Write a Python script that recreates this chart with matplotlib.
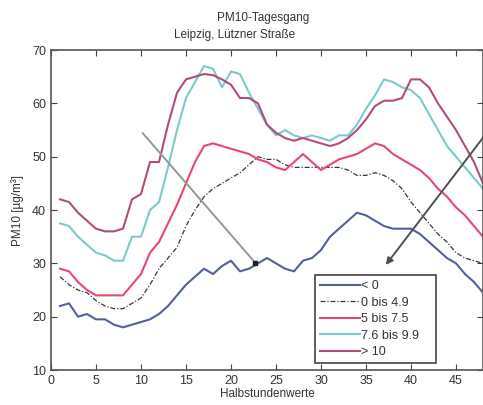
import numpy as np
import matplotlib
matplotlib.use("Agg")
import matplotlib.pyplot as plt

plt.rcParams['font.family'] = ['Liberation Sans', 'DejaVu Sans']

# half-hour index 1..48
x = np.arange(1, 49)

# PM10 daily course per class
lt0 = [22, 22.5, 20, 20.5, 19.5, 19.5, 18.5, 18, 18.5, 19, 19.5, 20.5, 22, 24,
       26, 27.5, 29, 28, 29.5, 30.5, 28.5, 29, 30, 31, 30, 29, 28.5, 30.5,
       31, 32.5, 35, 36.5, 38, 39.5, 39, 38, 37, 36.5, 36.5, 36.5, 35.5, 34,
       32.5, 31, 30, 28, 26.5, 24.5]
b0_49 = [27.5, 26, 25, 24.5, 23, 22, 21.5, 21.5, 22.5, 23.5, 26, 29, 31, 33,
         37, 40, 42.5, 44, 45, 46, 47, 48.5, 50, 49.5, 49.5, 48.5, 48, 48,
         48, 48, 48, 48, 47.5, 46.5, 46.5, 47, 46.5, 45.5, 44, 41.5, 39.5, 37.5,
         35.5, 34, 32, 31, 30.5, 30]
b5_75 = [29, 28.5, 26.5, 25, 24, 24, 24, 24, 26, 28, 32, 34, 37.5, 41,
         45, 49, 52, 52.5, 52, 51.5, 51, 50.5, 49.5, 49, 48, 47.5, 49, 50.5,
         49, 47.5, 48.5, 49.5, 50, 50.5, 51.5, 52.5, 52, 50.5, 49.5, 48.5, 47.5, 46,
         44, 42.5, 40.5, 39, 37, 35]
b76_99 = [37.5, 37, 35, 33.5, 32, 31.5, 30.5, 30.5, 35, 35, 40, 41.5, 48, 55,
          61, 64, 67, 66.5, 63, 66, 65.5, 62, 59, 56, 54, 55, 54, 53.5,
          54, 53.5, 53, 54, 54, 56, 59, 61.5, 64.5, 64, 63, 62.5, 61, 58,
          55, 52, 50, 48, 46, 44]
gt10 = [42, 41.5, 39.5, 38, 36.5, 36, 36, 36.5, 42, 43, 49, 49, 56, 62,
        64.5, 65, 65.5, 65.3, 64.5, 63.5, 61, 61, 60, 56, 54.5, 53.5, 53, 53.5,
        53, 52.5, 52, 52.5, 53.5, 55, 57, 59.5, 60.5, 60.5, 61, 64.5, 64.5, 63,
        60, 57.5, 55, 52, 49, 45]

labels = ['< 0', '0 bis 4.9', '5 bis 7.5', '7.6 bis 9.9', '> 10']
colors = ['#52619e', '#383838', '#e8476e', '#7ccaca', '#b24c7e']

fig = plt.figure(figsize=(4.83, 4.05), dpi=100)
ax = fig.add_axes([0.1056, 0.0864, 0.8944, 0.79])

ax.plot(x, lt0, color=colors[0], lw=1.5, label=labels[0])
ax.plot(x, b0_49, color=colors[1], lw=0.9, ls=(0, (4, 1.5, 1, 1.5)), label=labels[1])
ax.plot(x, b5_75, color=colors[2], lw=1.5, label=labels[2])
ax.plot(x, b76_99, color=colors[3], lw=1.5, label=labels[3])
ax.plot(x, gt10, color=colors[4], lw=1.5, label=labels[4])

# annotation lines
ax.plot([10.2, 22.7], [54.4, 30.1], color='#8f9a90', lw=1.4)
ax.plot([22.7], [30.1], 's', color='#202020', ms=3)
ax.annotate('', xy=(37.2, 29.7), xytext=(48.2, 54.0),
            arrowprops=dict(arrowstyle='-|>', color='#505050', lw=1.4,
                            mutation_scale=10, shrinkA=0, shrinkB=0),
            annotation_clip=False)

ax.set_xlim(0, 48)
ax.set_ylim(10, 70)
ax.set_xticks(np.arange(0, 50, 5))
ax.set_yticks(np.arange(10, 71, 10))
ax.tick_params(direction='in', top=True, right=True, length=4,
               colors='#404040', labelsize=9, labelcolor='#333333')
for s in ax.spines.values():
    s.set_color('#555555')
    s.set_linewidth(1.2)

ax.set_xlabel('Halbstundenwerte', fontsize=8.5, color='#333333', labelpad=1)
ax.set_ylabel('PM10 [µg/m³]', fontsize=8.5, color='#333333', labelpad=6)

fig.text(0.545, 0.955, 'PM10-Tagesgang', ha='center', va='center',
         fontsize=8.5, color='#333333')
fig.text(0.485, 0.913, 'Leipzig, Lützner Straße', ha='center', va='center',
         fontsize=8.5, color='#333333')

leg = ax.legend(loc='lower left', bbox_to_anchor=(0.611, 0.022, 0.28, 0.306),
                mode='expand', fontsize=9, handlelength=3.2, handletextpad=0.1,
                borderaxespad=0, labelspacing=0.35, fancybox=False,
                framealpha=1, borderpad=0.4)
leg.get_frame().set_edgecolor('#444444')
leg.get_frame().set_linewidth(1.2)
for t in leg.get_texts():
    t.set_color('#333333')

fig.savefig('out.png', dpi=100)
